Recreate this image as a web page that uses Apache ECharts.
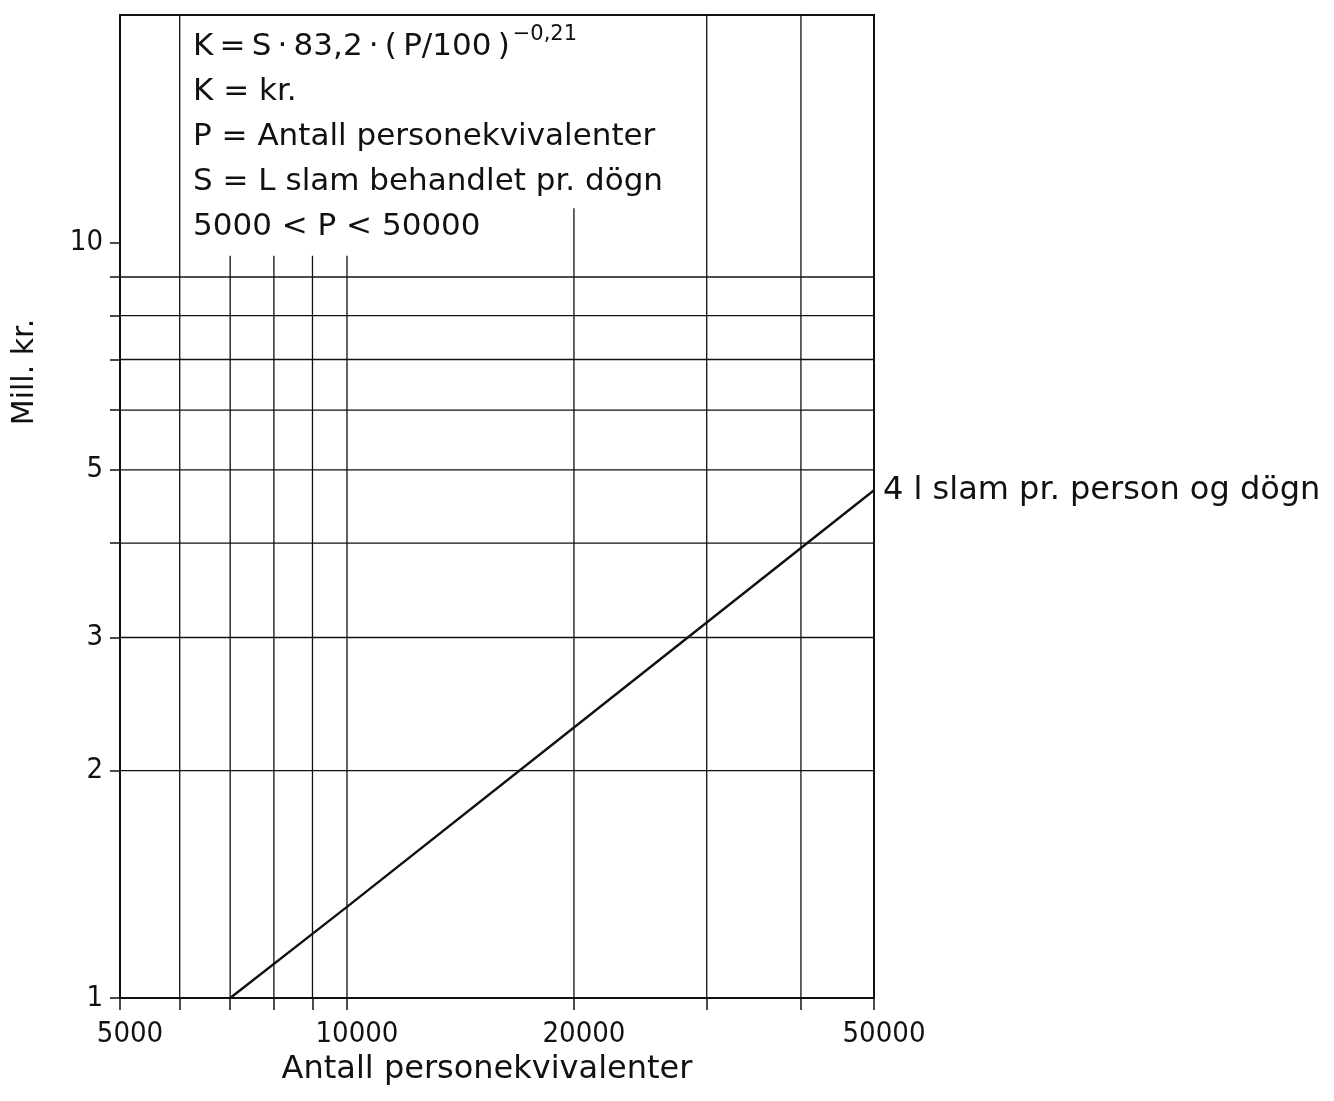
<!DOCTYPE html>
<html><head><meta charset="utf-8">
<script src="https://cdn.jsdelivr.net/npm/echarts@6/dist/echarts.min.js"></script>
<style>html,body{margin:0;padding:0;background:#fff}#c{width:1334px;height:1101px}</style>
</head><body><div id="c"></div>
<script>
// ---- data ----
const personEq = [7000, 10000, 20000, 30000, 50000];
const costMill = [1.0, 1.32, 2.28, 3.14, 4.7];
const seriesName = '4 l slam pr. person og dögn';
const xTickValues = [5000, 6000, 7000, 8000, 9000, 10000, 20000, 30000, 40000, 50000];
const xLabelValues = [5000, 10000, 20000, 50000];
const yTickValues = [1, 2, 3, 4, 5, 6, 7, 8, 9, 10];
const yLabelValues = [1, 2, 3, 5, 10];
const xGridValues = [6000, 7000, 8000, 9000, 10000, 20000, 30000, 40000];
const xGridTops = [20, 9.6, 9.6, 9.6, 9.6, 11.1, 20, 20];
const yGridValues = [2, 3, 4, 5, 6, 7, 8, 9];
const xMin = 5000, xMax = 50000, yMin = 1, yMax = 20;
const formulaMain = 'K\u2009=\u2009S\u2009·\u200983,2\u2009·\u2009(\u2009P/100\u2009)';
const formulaExp = '−0,21';
const formulaRest = ['K = kr.', 'P = Antall personekvivalenter', 'S = L slam behandlet pr. dögn', '5000 < P < 50000'];
const xTitle = 'Antall personekvivalenter';
const yTitle = 'Mill. kr.';

const FONT = 'DejaVu Sans';
const NUMFONT = '"Liberation Sans Narrow", "DejaVu Sans Condensed", sans-serif';
const INK = '#111';

const series = [];
xGridValues.forEach((v, i) => {
  series.push({ type: 'line', silent: true, symbol: 'none', z: 1,
    lineStyle: { color: INK, width: 1.3 },
    data: [[v, yMin], [v, xGridTops[i]]] });
});
yGridValues.forEach(v => {
  series.push({ type: 'line', silent: true, symbol: 'none', z: 1,
    lineStyle: { color: INK, width: 1.3 },
    data: [[xMin, v], [xMax, v]] });
});
series.push({
  type: 'line', name: seriesName, symbol: 'none', z: 5,
  lineStyle: { color: INK, width: 2.4 },
  data: personEq.map((p, i) => [p, costMill[i]]),
  endLabel: { show: true, formatter: seriesName, distance: 9,
    fontFamily: FONT, fontSize: 32, color: INK }
});

const richText = '{a|' + formulaMain + '}{s|' + formulaExp + '}\n' +
  formulaRest.map(t => '{a|' + t + '}').join('\n');

const chart = echarts.init(document.getElementById('c'), null, { renderer: 'canvas' });
chart.setOption({
  backgroundColor: '#fff',
  animation: false,
  grid: { left: 120, right: 460, top: 15, bottom: 103, show: true,
    borderColor: INK, borderWidth: 2, backgroundColor: 'transparent' },
  xAxis: {
    type: 'log', logBase: 10, min: xMin, max: xMax,
    name: xTitle, nameLocation: 'middle', nameGap: 52,
    nameTextStyle: { fontFamily: FONT, fontSize: 32, color: INK, padding: [0, 20, 0, 0] },
    axisLine: { show: true, lineStyle: { color: INK, width: 2 } },
    axisTick: { show: true, inside: false, length: 12, customValues: xTickValues,
      lineStyle: { color: INK, width: 1.5 } },
    axisLabel: { customValues: xLabelValues, margin: 22, fontFamily: NUMFONT,
      fontSize: 29, color: INK, padding: [0, 0, 0, 20], formatter: v => String(Math.round(v)) },
    splitLine: { show: false }, minorTick: { show: false }, minorSplitLine: { show: false }
  },
  yAxis: {
    type: 'log', logBase: 10, min: yMin, max: yMax,
    axisLine: { show: true, lineStyle: { color: INK, width: 2 } },
    axisTick: { show: true, inside: false, length: 10, customValues: yTickValues,
      lineStyle: { color: INK, width: 1.5 } },
    axisLabel: { customValues: yLabelValues, margin: 17, fontFamily: NUMFONT,
      fontSize: 29, color: INK, formatter: v => String(Math.round(v)) },
    splitLine: { show: false }, minorTick: { show: false }, minorSplitLine: { show: false }
  },
  graphic: [
    { type: 'text', left: 193, top: 24, z: 10,
      style: { text: richText, fontFamily: FONT, fill: INK,
        rich: {
          a: { fontFamily: FONT, fontSize: 31, lineHeight: 45, color: INK },
          s: { fontFamily: FONT, fontSize: 21, lineHeight: 22, color: INK, verticalAlign: 'top', padding: [0, 0, 0, 3] }
        } } },
    { type: 'text', x: 25, y: 372, rotation: Math.PI / 2, z: 10,
      style: { text: yTitle, fontFamily: FONT, fontSize: 30, fill: INK,
        align: 'center', verticalAlign: 'middle' } }
  ],
  series: series
});
</script></body></html>
